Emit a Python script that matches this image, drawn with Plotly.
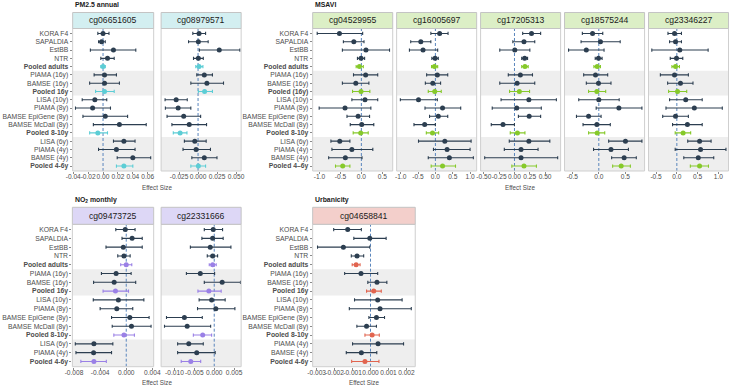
import plotly.graph_objects as go

# ---------------- data ----------------
pm_rows = ["KORA F4", "SAPALDIA", "EstBB", "NTR", "Pooled adults", "PIAMA (16y)", "BAMSE (16y)",
           "Pooled 16y", "LISA (10y)", "PIAMA (8y)", "BAMSE EpiGene (8y)", "BAMSE McDall (8y)",
           "Pooled 8-10y", "LISA (6y)", "PIAMA (4y)", "BAMSE (4y)", "Pooled 4-6y"]
msavi_rows = ["KORA F4", "SAPALDIA", "EstBB", "NTR", "Pooled adults", "PIAMA (16y)", "BAMSE (16y)",
              "Pooled (16y)", "LISA (10y)", "PIAMA (8y)", "BAMSE EpiGene (8y)", "BAMSE McDall (8y)",
              "Pooled 8-10y", "LISA (6y)", "PIAMA (4y)", "BAMSE (4y)", "Pooled 4\u20136y"]
no2_rows = ["KORA F4", "SAPALDIA", "EstBB", "NTR", "Pooled adults", "PIAMA (16y)", "BAMSE (16y)",
            "Pooled 16y", "LISA (10y)", "PIAMA (8y)", "BAMSE EpiGene (8y)", "BAMSE McDall (8y)",
            "Pooled 8-10y", "LISA (6y)", "PIAMA (4y)", "Pooled 4-6y"]
urb_rows = ["KORA F4", "SAPALDIA", "EstBB", "NTR", "Pooled adults", "PIAMA (16y)", "BAMSE (16y)",
            "Pooled 16y", "LISA (10y)", "PIAMA (8y)", "BAMSE EpiGene (8y)", "BAMSE McDall (8y)",
            "Pooled 8-10y", "PIAMA (4y)", "BAMSE (4y)", "Pooled 4-6y"]

# PM2.5 annual
cg06651605_est = [0.000, -0.002, 0.014, 0.006, 0.000, 0.002, 0.002, 0.002, -0.011, -0.014, 0.003, 0.022, -0.007, 0.028, 0.018, 0.040, 0.028]
cg06651605_lo = [-0.007, -0.006, -0.017, -0.003, -0.003, -0.012, -0.018, -0.010, -0.028, -0.037, -0.027, -0.013, -0.018, 0.014, -0.006, 0.019, 0.018]
cg06651605_hi = [0.008, 0.003, 0.044, 0.015, 0.003, 0.018, 0.022, 0.015, 0.005, 0.010, 0.033, 0.058, 0.006, 0.043, 0.043, 0.064, 0.040]

cg08979571_est = [0.0013, 0.0004, 0.0279, 0.0004, 0.0013, 0.0082, 0.0116, 0.0086, -0.0288, -0.0262, -0.0189, -0.0116, -0.0236, -0.0043, -0.0026, 0.0082, 0.0004]
cg08979571_lo = [-0.0069, -0.0125, 0.0017, -0.0060, -0.0030, -0.0017, -0.0095, 0.0004, -0.0434, -0.0430, -0.0408, -0.0344, -0.0326, -0.0180, -0.0198, -0.0082, -0.0095]
cg08979571_hi = [0.0099, 0.0133, 0.0550, 0.0069, 0.0064, 0.0189, 0.0335, 0.0189, -0.0142, -0.0095, 0.0034, 0.0112, -0.0146, 0.0107, 0.0163, 0.0249, 0.0099]

# MSAVI
cg04529955_est = [-0.524, -0.180, 0.110, -0.008, -0.047, 0.102, -0.133, -0.008, 0.086, -0.391, -0.078, 0.008, -0.016, -0.516, -0.227, -0.383, -0.446]
cg04529955_lo = [-1.056, -0.430, -0.454, -0.094, -0.125, -0.188, -0.454, -0.211, -0.227, -1.009, -0.344, -0.266, -0.196, -0.728, -0.704, -0.782, -0.618]
cg04529955_hi = [0.031, 0.063, 0.673, 0.078, 0.047, 0.391, 0.180, 0.203, 0.391, 0.227, 0.196, 0.297, 0.164, -0.274, 0.274, 0.016, -0.274]

cg16005697_est = [0.122, -0.421, -0.356, -0.009, -0.028, 0.056, -0.075, -0.019, -0.487, 0.206, 0.084, -0.309, -0.084, 0.272, 0.337, 0.403, 0.206]
cg16005697_lo = [-0.131, -0.712, -0.749, -0.103, -0.112, -0.253, -0.290, -0.206, -1.011, -0.300, -0.169, -0.618, -0.262, -0.487, -0.056, -0.206, -0.122]
cg16005697_hi = [0.365, -0.131, 0.066, 0.084, 0.066, 0.356, 0.150, 0.169, 0.056, 0.730, 0.356, 0.000, 0.094, 1.030, 1.000, 1.095, 0.580]

cg17205313_est = [0.278, 0.155, 0.005, 0.166, 0.171, 0.096, 0.043, 0.080, 0.235, 0.037, 0.240, -0.187, 0.048, 0.235, 0.107, 0.107, 0.155]
cg17205313_lo = [0.134, -0.027, -0.240, 0.118, 0.118, -0.101, -0.240, -0.080, -0.219, -0.363, 0.064, -0.379, -0.069, -0.085, -0.166, -0.486, -0.043]
cg17205313_hi = [0.427, 0.331, 0.251, 0.214, 0.224, 0.294, 0.331, 0.246, 0.684, 0.438, 0.427, 0.000, 0.171, 0.577, 0.385, 0.705, 0.358]

cg18575244_est = [-0.118, 0.031, -0.236, -0.006, -0.031, -0.062, -0.006, -0.037, 0.000, 0.379, -0.193, -0.037, -0.031, 0.503, 0.230, 0.478, 0.422]
cg18575244_lo = [-0.311, -0.335, -0.571, -0.068, -0.093, -0.286, -0.236, -0.193, -0.379, -0.050, -0.422, -0.298, -0.193, 0.186, -0.099, 0.242, 0.261]
cg18575244_hi = [0.075, 0.404, 0.099, 0.062, 0.031, 0.168, 0.230, 0.130, 0.385, 0.814, 0.043, 0.217, 0.112, 0.814, 0.559, 0.708, 0.596]

cg23346227_est = [-0.056, -0.032, 0.071, -0.008, -0.032, -0.056, 0.087, 0.016, 0.214, 0.421, -0.032, 0.254, 0.151, 0.548, 0.571, 0.516, 0.548]
cg23346227_lo = [-0.214, -0.175, -0.603, -0.159, -0.119, -0.397, -0.222, -0.198, -0.175, -0.262, -0.341, -0.103, -0.040, 0.262, -0.040, 0.167, 0.325]
cg23346227_hi = [0.111, 0.111, 0.754, 0.143, 0.063, 0.278, 0.389, 0.238, 0.611, 1.095, 0.278, 0.611, 0.333, 0.825, 1.183, 0.889, 0.762]

# NO2 monthly
cg09473725_est = [-0.00015, 0.0009, -0.00045, -0.00035, 0.0, -0.00155, -0.00185, -0.00165, -0.0012, -0.00145, 0.00055, 0.0008, -0.00035, -0.00495, -0.005, -0.00495]
cg09473725_lo = [-0.0016, -0.00065, -0.0031, -0.0013, -0.00085, -0.0038, -0.005, -0.00355, -0.00505, -0.004, -0.00225, -0.00215, -0.0019, -0.0078, -0.0077, -0.00695]
cg09473725_hi = [0.00135, 0.00245, 0.00245, 0.0006, 0.00085, 0.00075, 0.00145, 0.00035, 0.0027, 0.001, 0.0035, 0.0038, 0.00125, -0.00205, -0.00225, -0.00305]

cg22331666_est = [-0.00025, -0.0004, -0.001, -0.0004, -0.0004, -0.0035, 0.002, -0.00135, -0.00065, 0.0004, -0.0075, -0.0068, -0.0029, -0.0064, -0.0044, -0.0059]
cg22331666_lo = [-0.0025, -0.0031, -0.006, -0.00175, -0.00125, -0.007, -0.0025, -0.0041, -0.0038, -0.0042, -0.012, -0.0125, -0.00525, -0.0092, -0.0092, -0.0083]
cg22331666_hi = [0.0021, 0.00225, 0.0042, 0.00085, 0.0005, 0.0001, 0.0066, 0.00175, 0.00275, 0.0052, -0.003, -0.0009, -0.00065, -0.00275, 0.00025, -0.0034]

# Urbanicity
cg04658841_est = [-0.00127, -0.00004, -0.00151, -0.00075, -0.0008, -0.00053, 0.00036, 0.00018, 0.0004, 0.00053, 0.00033, -0.00022, 0.00009, 0.00042, -0.00051, -0.00031]
cg04658841_lo = [-0.00205, -0.00093, -0.00295, -0.00107, -0.00102, -0.00144, -0.00015, -0.00022, -0.00089, -0.00118, -0.00009, -0.00076, -0.00031, -0.001, -0.00135, -0.00105]
cg04658841_hi = [-0.00051, 0.00087, -0.00004, -0.00038, -0.00058, 0.0004, 0.00091, 0.0006, 0.00176, 0.00227, 0.00078, 0.00033, 0.00049, 0.00184, 0.00035, 0.00047]

# tick labels
pm1_ticks = [-0.04, -0.02, 0.0, 0.02, 0.04, 0.06]
pm2_ticks = [-0.05, -0.025, 0.0, 0.025, 0.05]
ms1_ticks = [-1.0, -0.5, 0.0, 0.5]
ms2_ticks = [-1.0, -0.5, 0.0, 0.5, 1.0]
ms3_ticks = [-0.5, -0.25, 0.0, 0.25, 0.5]
ms4_ticks = [-0.5, 0.0, 0.5]
ms5_ticks = [-0.5, 0.0, 0.5, 1.0]
no1_ticks = [-0.008, -0.004, 0.0, 0.004]
no2_ticks = [-0.01, -0.005, 0.0, 0.005]
urb_ticks = [-0.003, -0.002, -0.001, 0.0, 0.001, 0.002]

# ---------------- layout helpers ----------------
W, H = 737, 387
FONT = "Liberation Sans"
DARK = "#2c3e50"

def fx(px):
    return px / W

def fy(py):
    return 1 - py / H

TOP = dict(strip=(12.5, 28.5), plot=(28.5, 171.0))
BOT = dict(strip=(207.3, 224.3), plot=(224.3, 366.7))

PM_C = ("#5ccdd5", "#d3eff1")
MS_C = ("#86c92a", "#dcefc6")
NO_C = ("#9a80e6", "#ddd7f6")
UR_C = ("#e1644f", "#f3cfcb")

panels = [
    ("cg06651605", pm_rows, cg06651605_est, cg06651605_lo, cg06651605_hi, (66.0, 148.7), TOP, PM_C, (-0.0408, 0.068), pm1_ticks, 2, True),
    ("cg08979571", pm_rows, cg08979571_est, cg08979571_lo, cg08979571_hi, (156.3, 238.0), TOP, PM_C, (-0.0486, 0.0567), pm2_ticks, 3, False),
    ("cg04529955", msavi_rows, cg04529955_est, cg04529955_lo, cg04529955_hi, (311.0, 392.7), TOP, MS_C, (-1.164, 0.749), ms1_ticks, 1, True),
    ("cg16005697", msavi_rows, cg16005697_est, cg16005697_lo, cg16005697_hi, (396.7, 478.4), TOP, MS_C, (-1.118, 1.19), ms2_ticks, 1, False),
    ("cg17205313", msavi_rows, cg17205313_est, cg17205313_lo, cg17205313_hi, (482.4, 564.1), TOP, MS_C, (-0.553, 0.753), ms3_ticks, 2, False),
    ("cg18575244", msavi_rows, cg18575244_est, cg18575244_lo, cg18575244_hi, (568.1, 649.8), TOP, MS_C, (-0.647, 0.864), ms4_ticks, 1, False),
    ("cg23346227", msavi_rows, cg23346227_est, cg23346227_lo, cg23346227_hi, (653.8, 735.5), TOP, MS_C, (-0.683, 1.245), ms5_ticks, 1, False),
    ("cg09473725", no2_rows, cg09473725_est, cg09473725_lo, cg09473725_hi, (65.7, 148.7), BOT, NO_C, (-0.00825, 0.0042), no1_ticks, 3, True),
    ("cg22331666", no2_rows, cg22331666_est, cg22331666_lo, cg22331666_hi, (156.3, 238.0), BOT, NO_C, (-0.01335, 0.00677), no2_ticks, 3, False),
    ("cg04658841", urb_rows, cg04658841_est, cg04658841_lo, cg04658841_hi, (311.0, 415.7), BOT, UR_C, (-0.00322, 0.00249), urb_ticks, 3, True),
]

fig = go.Figure()
shapes = []
annotations = []
layout_axes = {}

for i, (name, rows, est, lo, hi, (x0, x1), sec, (pcol, scol), xr, ticks, dec, showlab) in enumerate(panels, start=1):
    xa = "x" if i == 1 else f"x{i}"
    ya = "y" if i == 1 else f"y{i}"
    xkey = "xaxis" if i == 1 else f"xaxis{i}"
    ykey = "yaxis" if i == 1 else f"yaxis{i}"
    n = len(rows)
    py0, py1 = sec["plot"]
    sy0, sy1 = sec["strip"]

    for pooled in (False, True):
        idx = [k for k, r in enumerate(rows) if r.startswith("Pooled") == pooled]
        col = pcol if pooled else DARK
        fig.add_trace(go.Scatter(
            x=[est[k] for k in idx],
            y=[rows[k] for k in idx],
            mode="markers",
            marker=dict(color=col, size=5, line=dict(width=0)),
            error_x=dict(type="data", symmetric=False,
                         array=[hi[k] - est[k] for k in idx],
                         arrayminus=[est[k] - lo[k] for k in idx],
                         color=col, thickness=1.1, width=1.6),
            xaxis=xa, yaxis=ya, showlegend=False, hoverinfo="skip",
        ))

    ticktext = [f"<b>{r}</b>" if r.startswith("Pooled") else r for r in rows]
    layout_axes[xkey] = dict(
        domain=[fx(x0), fx(x1)], anchor=ya, range=list(xr),
        tickmode="array", tickvals=ticks,
        ticktext=[f"{t:.{dec}f}" for t in ticks],
        tickangle=0, ticklabelstandoff=-3,
        showgrid=False, zeroline=False, showline=False,
        ticks="outside", ticklen=2, tickwidth=1, tickcolor="#8a8a8a",
        tickfont=dict(family=FONT, size=6.6, color="#4d4d4d"),
    )
    layout_axes[ykey] = dict(
        domain=[fy(py1), fy(py0)], anchor=xa, type="category",
        categoryorder="array", categoryarray=rows,
        range=[n - 0.4, -0.6],
        tickmode="array", tickvals=rows, ticktext=ticktext,
        showticklabels=showlab, tickangle=0,
        ticks="outside" if showlab else "", ticklen=2, tickwidth=1, tickcolor="#8a8a8a",
        showgrid=False, zeroline=False, showline=False,
        tickfont=dict(family=FONT, size=6.8, color="#4d4d4d"),
    )

    # shaded row groups
    xd = f"{xa} domain"
    shapes.append(dict(type="rect", xref=xd, yref=ya, x0=0, x1=1, y0=4.5, y1=7.5,
                       fillcolor="#eeeeee", line=dict(width=0), layer="below"))
    shapes.append(dict(type="rect", xref=xd, yref=ya, x0=0, x1=1, y0=12.5, y1=n - 0.4,
                       fillcolor="#eeeeee", line=dict(width=0), layer="below"))
    # zero reference line
    shapes.append(dict(type="line", xref=xa, yref=f"{ya} domain", x0=0, x1=0, y0=0, y1=1,
                       line=dict(color="#5a86bd", width=1, dash="3px,2px"), layer="below"))
    # panel border
    shapes.append(dict(type="rect", xref=xd, yref=f"{ya} domain", x0=0, x1=1, y0=0, y1=1,
                       fillcolor="rgba(0,0,0,0)", line=dict(color="#cfcfcf", width=1), layer="above"))
    # strip
    shapes.append(dict(type="rect", xref="paper", yref="paper", x0=fx(x0), x1=fx(x1),
                       y0=fy(sy1), y1=fy(sy0), fillcolor=scol,
                       line=dict(color="#c4c4c4", width=1), layer="above"))
    annotations.append(dict(x=fx((x0 + x1) / 2), y=fy((sy0 + sy1) / 2), xref="paper", yref="paper",
                            text=name, showarrow=False, xanchor="center", yanchor="middle",
                            font=dict(family=FONT, size=8.6, color="#1a1a1a")))

# group titles
for txt, px, py in [("<b>PM2.5 annual</b>", 66, 5), ("<b>MSAVI</b>", 311, 5),
                    ("<b>NO<sub>2</sub> monthly</b>", 66, 199.5), ("<b>Urbanicity</b>", 311, 199.5)]:
    annotations.append(dict(x=fx(px), y=fy(py), xref="paper", yref="paper", text=txt,
                            showarrow=False, xanchor="left", yanchor="middle",
                            font=dict(family=FONT, size=6.9, color="#1a1a1a")))

# x-axis titles
for px, py in [(152, 187), (523, 187), (152, 382), (363, 382)]:
    annotations.append(dict(x=fx(px), y=fy(py), xref="paper", yref="paper", text="Effect Size",
                            showarrow=False, xanchor="center", yanchor="middle",
                            font=dict(family=FONT, size=6.3, color="#4d4d4d")))

fig.update_layout(
    width=W, height=H, margin=dict(l=0, r=0, t=0, b=0),
    paper_bgcolor="white", plot_bgcolor="white",
    showlegend=False, shapes=shapes, annotations=annotations,
    font=dict(family=FONT),
    **layout_axes,
)

fig.write_html("out.html")
